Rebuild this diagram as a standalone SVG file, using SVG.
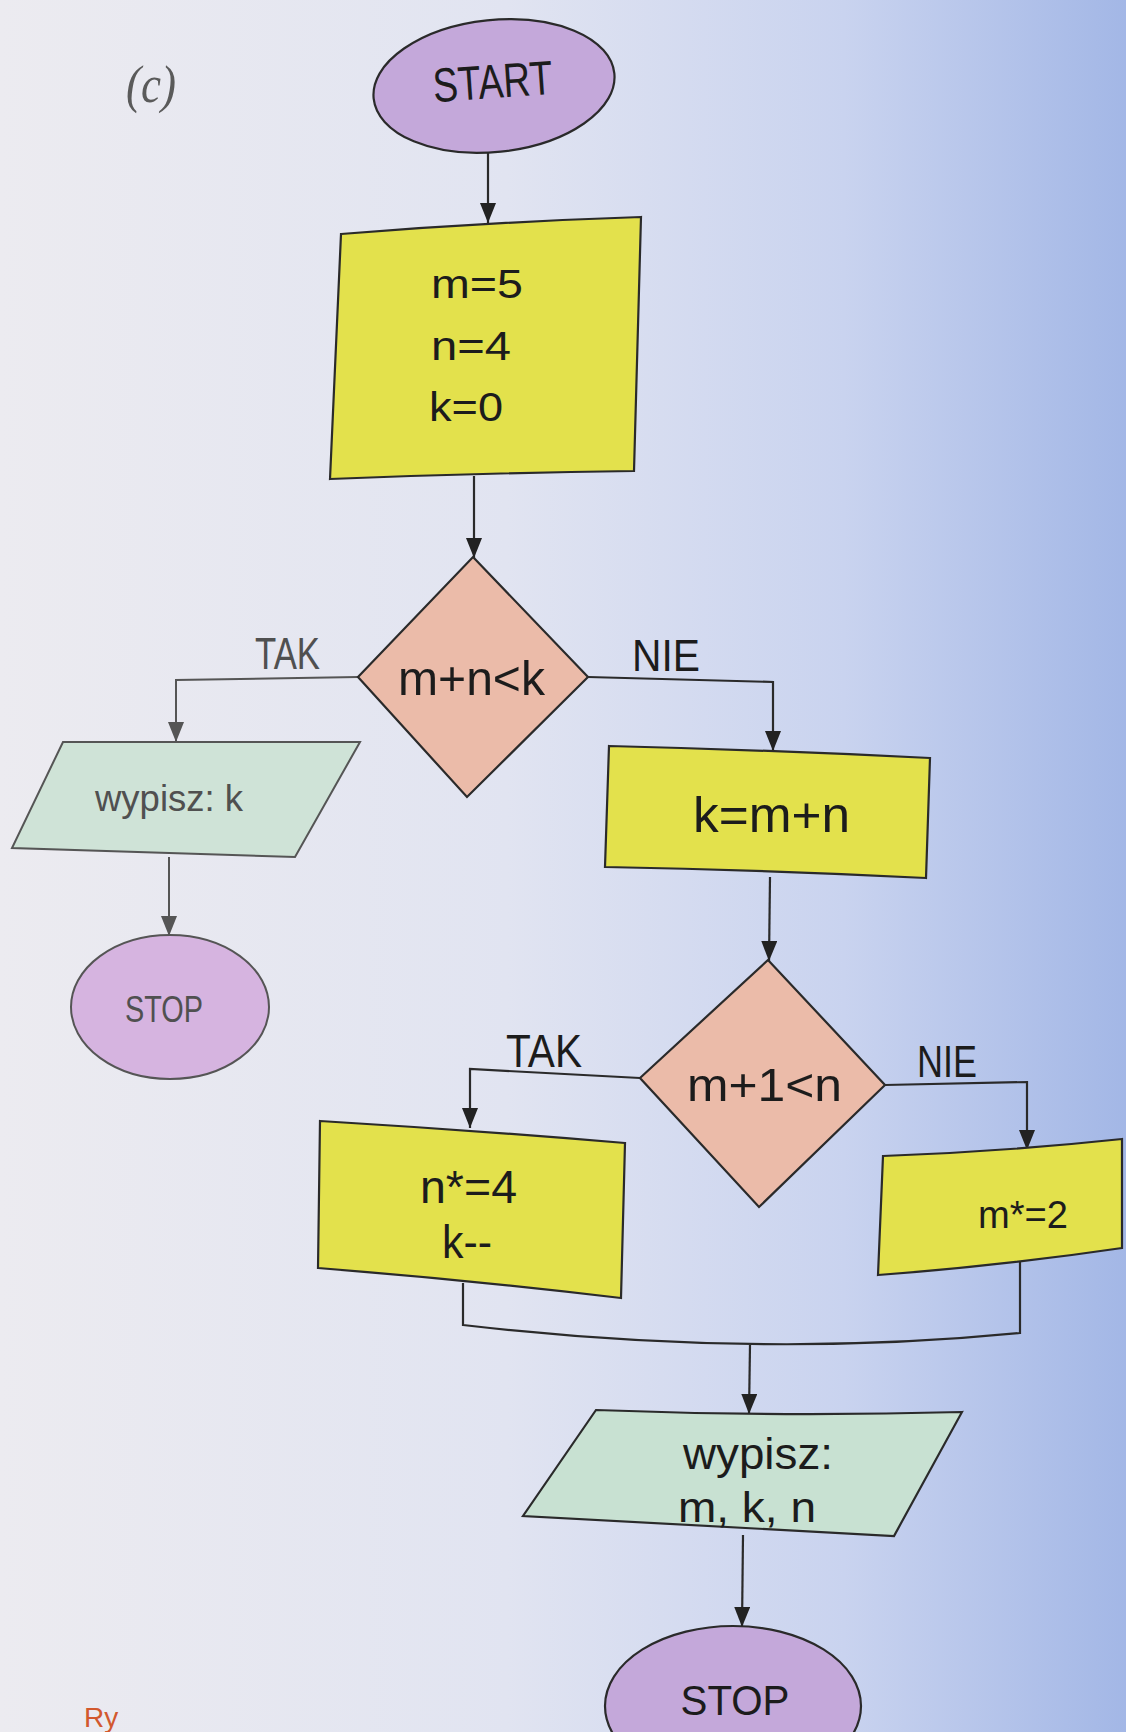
<svg xmlns="http://www.w3.org/2000/svg" width="1126" height="1732" viewBox="0 0 1126 1732">
  <defs>
    <linearGradient id="bg" x1="0" y1="0" x2="1" y2="0">
      <stop offset="0" stop-color="#ecebf0"/>
      <stop offset="0.45" stop-color="#e1e4f1"/>
      <stop offset="0.75" stop-color="#c9d3ef"/>
      <stop offset="1" stop-color="#a3b7e6"/>
    </linearGradient>
    <marker id="arr" markerUnits="userSpaceOnUse" markerWidth="20" markerHeight="16" viewBox="0 0 20 16" refX="20" refY="8" orient="auto">
      <path d="M0,0 L20,8 L0,16 Z" fill="#222"/>
    </marker>
    <marker id="arrg" markerUnits="userSpaceOnUse" markerWidth="20" markerHeight="16" viewBox="0 0 20 16" refX="20" refY="8" orient="auto">
      <path d="M0,0 L20,8 L0,16 Z" fill="#555"/>
    </marker>
  </defs>
  <style>
    .t { font-family: "Liberation Sans", "Open Sans", sans-serif; fill: #1c1c1c; }
    .tg { font-family: "Liberation Sans", "Open Sans", sans-serif; fill: #505050; }
    .ln { fill: none; stroke: #2a2a2a; stroke-width: 2.2; }
    .lng { fill: none; stroke: #555; stroke-width: 2; }
    .yel { fill: #e3e14c; stroke: #2a2a2a; stroke-width: 2.2; }
    .dia { fill: #ebbba9; stroke: #2a2a2a; stroke-width: 2.2; }
    .pur { fill: #c4a8da; stroke: #2a2a2a; stroke-width: 2.2; }
    .grn { fill: #c8e1d2; stroke: #2a2a2a; stroke-width: 2.2; }
  </style>

  <rect x="0" y="0" width="1126" height="1732" fill="url(#bg)"/>

  <text x="126" y="102" font-family="Liberation Serif, serif" font-style="italic" font-size="52" fill="#5a5a5a" textLength="50" lengthAdjust="spacingAndGlyphs">(c)</text>

  <g id="connectors">
    <path class="ln" d="M488,152 L488,223" marker-end="url(#arr)"/>
    <path class="ln" d="M474,476 L474,558" marker-end="url(#arr)"/>
    <path class="lng" d="M358,677 L176,680 L176,742" marker-end="url(#arrg)"/>
    <path class="ln" d="M588,677 L773,682 L773,751" marker-end="url(#arr)"/>
    <path class="lng" d="M169,857 L169,936" marker-end="url(#arrg)"/>
    <path class="ln" d="M770,877 L769,961" marker-end="url(#arr)"/>
    <path class="ln" d="M640,1078 L470,1069 L470,1128" marker-end="url(#arr)"/>
    <path class="ln" d="M885,1085 L1027,1082 L1027,1150" marker-end="url(#arr)"/>
    <path class="ln" d="M463,1283 L463,1325 Q758,1359 1020,1333 L1020,1262"/>
    <path class="ln" d="M750,1345 L749,1414" marker-end="url(#arr)"/>
    <path class="ln" d="M743,1535 L742,1627" marker-end="url(#arr)"/>
  </g>

  <g id="start">
    <ellipse class="pur" cx="494" cy="86" rx="121" ry="66" transform="rotate(-6 494 86)"/>
    <text class="t" x="493" y="98" font-size="48" text-anchor="middle" textLength="120" lengthAdjust="spacingAndGlyphs" transform="rotate(-4 493 86)">START</text>
  </g>

  <g id="init">
    <path class="yel" d="M341,234 Q490,222 641,217 L634,471 Q480,473 330,479 Z"/>
    <text class="t" x="431" y="298" font-size="40" textLength="92" lengthAdjust="spacingAndGlyphs">m=5</text>
    <text class="t" x="431" y="360" font-size="40" textLength="80" lengthAdjust="spacingAndGlyphs">n=4</text>
    <text class="t" x="429" y="421" font-size="40" textLength="74" lengthAdjust="spacingAndGlyphs">k=0</text>
  </g>

  <g id="cond1">
    <polygon class="dia" points="473,557 588,677 467,797 358,677"/>
    <text class="t" x="398" y="695" font-size="49" textLength="147" lengthAdjust="spacingAndGlyphs">m+n&lt;k</text>
    <text class="tg" x="255" y="669" font-size="44" textLength="65" lengthAdjust="spacingAndGlyphs">TAK</text>
    <text class="t" x="632" y="671" font-size="44" textLength="68" lengthAdjust="spacingAndGlyphs">NIE</text>
  </g>

  <g id="out1">
    <polygon points="63,742 360,742 295,857 12,848" fill="#cfe3d7" stroke="#555" stroke-width="2"/>
    <text class="tg" x="95" y="811" font-size="36" textLength="148" lengthAdjust="spacingAndGlyphs">wypisz: k</text>
  </g>

  <g id="stop1">
    <ellipse cx="170" cy="1007" rx="99" ry="72" fill="#d6b4e0" stroke="#555" stroke-width="2"/>
    <text class="tg" x="164" y="1022" font-size="37" text-anchor="middle" textLength="78" lengthAdjust="spacingAndGlyphs">STOP</text>
  </g>

  <g id="assign">
    <path class="yel" d="M609,746 Q770,750 930,758 L926,878 Q765,870 605,867 Z"/>
    <text class="t" x="693" y="832" font-size="50" textLength="157" lengthAdjust="spacingAndGlyphs">k=m+n</text>
  </g>

  <g id="cond2">
    <polygon class="dia" points="768,960 885,1085 759,1207 640,1078"/>
    <text class="t" x="687" y="1101" font-size="47" textLength="155" lengthAdjust="spacingAndGlyphs">m+1&lt;n</text>
    <text class="t" x="506" y="1067" font-size="46" textLength="76" lengthAdjust="spacingAndGlyphs">TAK</text>
    <text class="t" x="917" y="1077" font-size="44" textLength="60" lengthAdjust="spacingAndGlyphs">NIE</text>
  </g>

  <g id="tak-box">
    <path class="yel" d="M320,1121 Q470,1130 625,1143 L621,1298 Q470,1280 318,1268 Z"/>
    <text class="t" x="420" y="1203" font-size="46" textLength="97" lengthAdjust="spacingAndGlyphs">n*=4</text>
    <text class="t" x="442" y="1258" font-size="46" textLength="50" lengthAdjust="spacingAndGlyphs">k--</text>
  </g>

  <g id="nie-box">
    <path class="yel" d="M883,1156 Q1000,1152 1122,1139 L1122,1248 Q1000,1266 878,1275 Z"/>
    <text class="t" x="978" y="1228" font-size="39" textLength="90" lengthAdjust="spacingAndGlyphs">m*=2</text>
  </g>

  <g id="out2">
    <path class="grn" d="M596,1410 Q780,1417 962,1412 L894,1536 Q710,1526 523,1516 Z"/>
    <text class="t" x="758" y="1469" font-size="44" text-anchor="middle" textLength="150" lengthAdjust="spacingAndGlyphs">wypisz:</text>
    <text class="t" x="747" y="1522" font-size="43" text-anchor="middle" textLength="138" lengthAdjust="spacingAndGlyphs">m, k, n</text>
  </g>

  <g id="stop2">
    <ellipse class="pur" cx="733" cy="1706" rx="128" ry="80"/>
    <text class="t" x="735" y="1715" font-size="42" text-anchor="middle" textLength="109" lengthAdjust="spacingAndGlyphs">STOP</text>
  </g>

  <text x="84" y="1727" font-family="Liberation Sans, sans-serif" font-size="28" fill="#d2582e">Ry</text>
</svg>
